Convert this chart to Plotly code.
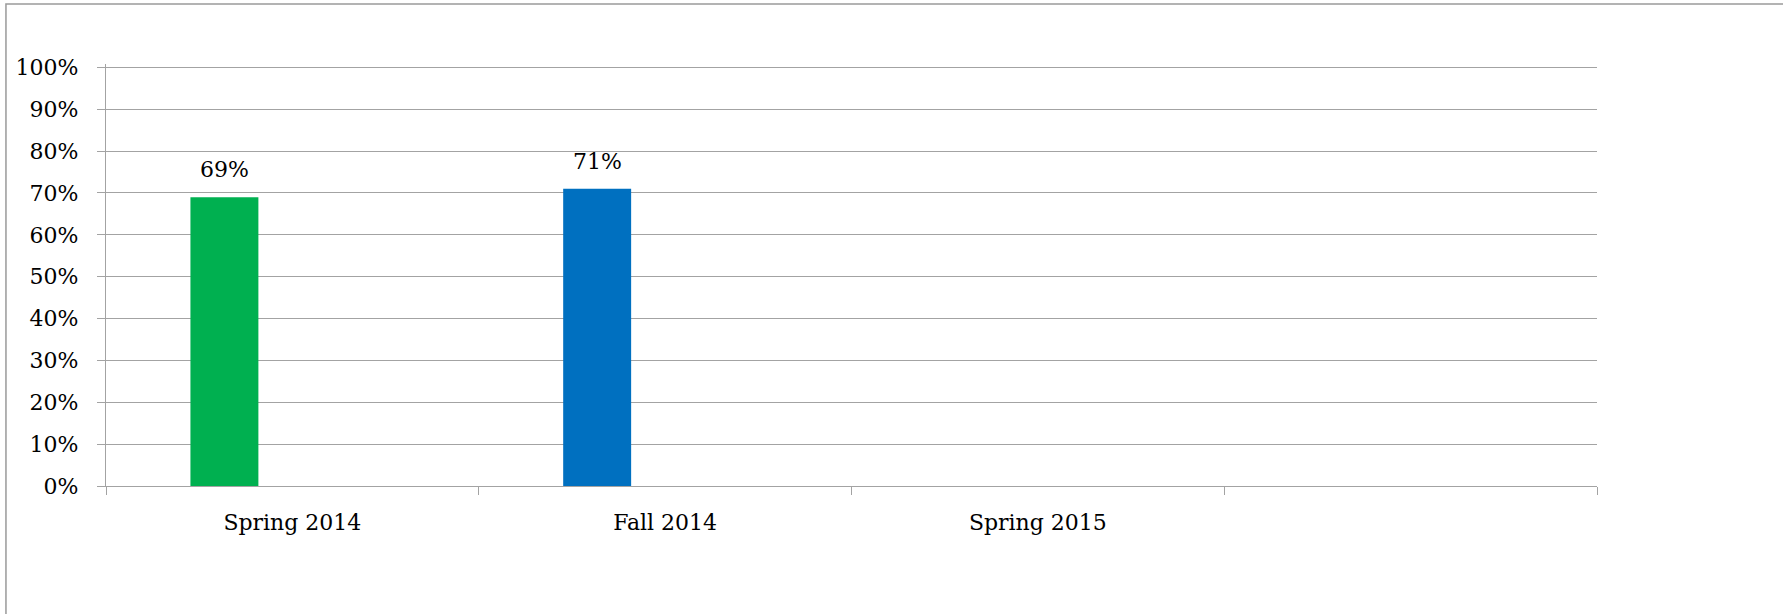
import plotly.graph_objects as go

categories = ["Spring 2014", "Fall 2014", "Spring 2015", " "]
values = [0.69, 0.71, None, None]
bar_colors = ["#00B050", "#0070C0", "#00B050", "#0070C0"]
empty_series = [None, None, None, None]
y_ticks = [0, 0.1, 0.2, 0.3, 0.4, 0.5, 0.6, 0.7, 0.8, 0.9, 1.0]
y_tick_labels = ["0%", "10%", "20%", "30%", "40%", "50%", "60%", "70%", "80%", "90%", "100%"]

FONT = "DejaVu Serif"
GRID = "#a3a3a3"

fig = go.Figure()
fig.add_trace(go.Bar(x=categories, y=values, marker=dict(color=bar_colors, line=dict(width=0)),
                     hoverinfo="skip", showlegend=False))
fig.add_trace(go.Bar(x=categories, y=empty_series, showlegend=False, hoverinfo="skip"))
fig.add_trace(go.Bar(x=categories, y=empty_series, showlegend=False, hoverinfo="skip"))

annotations = []
for c, v in zip(categories, values):
    if v is None:
        continue
    annotations.append(dict(x=c, y=v, xref="x", yref="y", text=f"{round(v*100)}%",
                            showarrow=False, xshift=-68, yshift=13, yanchor="bottom",
                            font=dict(family=FONT, size=22, color="#000000")))

fig.update_layout(
    width=1783, height=614,
    margin=dict(l=106, r=186, t=64, b=128),
    paper_bgcolor="white", plot_bgcolor="white",
    barmode="group", bargap=0.453, bargroupgap=0,
    font=dict(family=FONT, size=22, color="#000000"),
    annotations=annotations,
    shapes=[dict(type="rect", xref="paper", yref="paper",
                 x0=-0.0671, x1=1.3, y0=-0.5, y1=1.142,
                 line=dict(color="#9a9a9a", width=1.5), fillcolor="rgba(0,0,0,0)", layer="below")],
    xaxis=dict(type="category", categoryorder="array", categoryarray=categories,
               showgrid=False, showline=True, linecolor=GRID, linewidth=1.3,
               ticks="outside", ticklen=8, tickcolor=GRID, tickwidth=1,
               tickson="boundaries", ticklabelstandoff=16,
               tickfont=dict(family=FONT, size=22, color="#000000"), zeroline=False),
    yaxis=dict(range=[0, 1.008], tickvals=y_ticks, ticktext=y_tick_labels,
               showgrid=True, gridcolor=GRID, gridwidth=1.3,
               showline=True, linecolor=GRID, linewidth=1.3,
               ticks="outside", ticklen=8, tickcolor=GRID, tickwidth=1,
               ticklabelstandoff=14, zeroline=False,
               tickfont=dict(family=FONT, size=22, color="#000000")),
)

fig.write_html("out.html", config={"displayModeBar": False},
               post_script="document.body.style.margin='0';")
